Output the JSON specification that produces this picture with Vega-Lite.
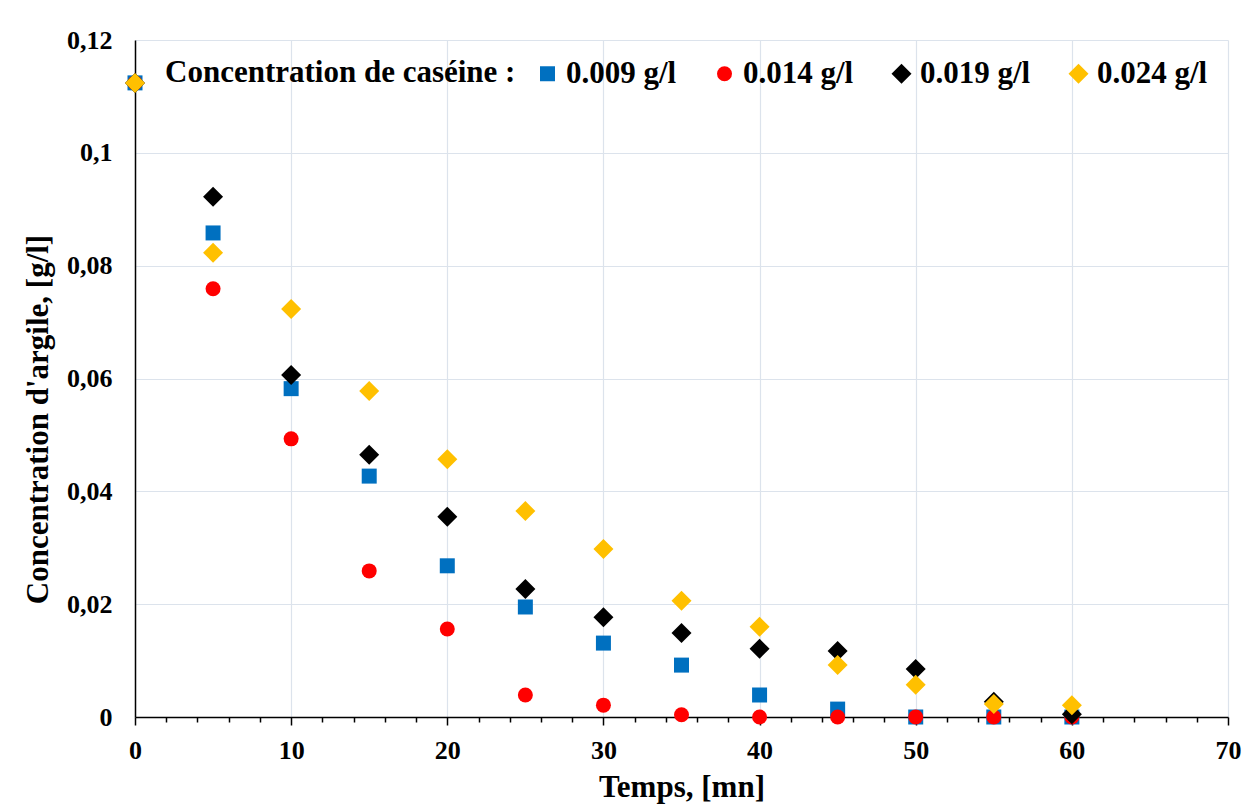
{
  "$schema": "https://vega.github.io/schema/vega-lite/v6.json",
  "width": 1093,
  "height": 677,
  "autosize": {"type": "none"},
  "padding": {"left": 135, "top": 40, "right": 25, "bottom": 89},
  "background": "white",
  "data": {"values": [
    {"t": 0, "c": 0.1124, "s": "0.009 g/l"},
    {"t": 5, "c": 0.0858, "s": "0.009 g/l"},
    {"t": 10, "c": 0.0582, "s": "0.009 g/l"},
    {"t": 15, "c": 0.0427, "s": "0.009 g/l"},
    {"t": 20, "c": 0.0268, "s": "0.009 g/l"},
    {"t": 25, "c": 0.0195, "s": "0.009 g/l"},
    {"t": 30, "c": 0.0131, "s": "0.009 g/l"},
    {"t": 35, "c": 0.0092, "s": "0.009 g/l"},
    {"t": 40, "c": 0.0039, "s": "0.009 g/l"},
    {"t": 45, "c": 0.0014, "s": "0.009 g/l"},
    {"t": 50, "c": 0.0, "s": "0.009 g/l"},
    {"t": 55, "c": 0.0, "s": "0.009 g/l"},
    {"t": 60, "c": 0.0, "s": "0.009 g/l"},
    {"t": 0, "c": 0.1124, "s": "0.014 g/l"},
    {"t": 5, "c": 0.0759, "s": "0.014 g/l"},
    {"t": 10, "c": 0.0493, "s": "0.014 g/l"},
    {"t": 15, "c": 0.0259, "s": "0.014 g/l"},
    {"t": 20, "c": 0.0156, "s": "0.014 g/l"},
    {"t": 25, "c": 0.0039, "s": "0.014 g/l"},
    {"t": 30, "c": 0.0021, "s": "0.014 g/l"},
    {"t": 35, "c": 0.0004, "s": "0.014 g/l"},
    {"t": 40, "c": 0.0, "s": "0.014 g/l"},
    {"t": 45, "c": 0.0, "s": "0.014 g/l"},
    {"t": 50, "c": 0.0, "s": "0.014 g/l"},
    {"t": 55, "c": 0.0, "s": "0.014 g/l"},
    {"t": 60, "c": 0.0, "s": "0.014 g/l"},
    {"t": 0, "c": 0.1124, "s": "0.019 g/l"},
    {"t": 5, "c": 0.0922, "s": "0.019 g/l"},
    {"t": 10, "c": 0.0606, "s": "0.019 g/l"},
    {"t": 15, "c": 0.0465, "s": "0.019 g/l"},
    {"t": 20, "c": 0.0355, "s": "0.019 g/l"},
    {"t": 25, "c": 0.0227, "s": "0.019 g/l"},
    {"t": 30, "c": 0.0177, "s": "0.019 g/l"},
    {"t": 35, "c": 0.0149, "s": "0.019 g/l"},
    {"t": 40, "c": 0.0121, "s": "0.019 g/l"},
    {"t": 45, "c": 0.0117, "s": "0.019 g/l"},
    {"t": 50, "c": 0.0085, "s": "0.019 g/l"},
    {"t": 55, "c": 0.0027, "s": "0.019 g/l"},
    {"t": 60, "c": 0.0005, "s": "0.019 g/l"},
    {"t": 0, "c": 0.1124, "s": "0.024 g/l"},
    {"t": 5, "c": 0.0823, "s": "0.024 g/l"},
    {"t": 10, "c": 0.0723, "s": "0.024 g/l"},
    {"t": 15, "c": 0.0578, "s": "0.024 g/l"},
    {"t": 20, "c": 0.0457, "s": "0.024 g/l"},
    {"t": 25, "c": 0.0365, "s": "0.024 g/l"},
    {"t": 30, "c": 0.0298, "s": "0.024 g/l"},
    {"t": 35, "c": 0.0206, "s": "0.024 g/l"},
    {"t": 40, "c": 0.0160, "s": "0.024 g/l"},
    {"t": 45, "c": 0.0092, "s": "0.024 g/l"},
    {"t": 50, "c": 0.0057, "s": "0.024 g/l"},
    {"t": 55, "c": 0.0023, "s": "0.024 g/l"},
    {"t": 60, "c": 0.0021, "s": "0.024 g/l"}
  ]},
  "mark": {"type": "point", "filled": true, "opacity": 1},
  "encoding": {
    "x": {
      "field": "t", "type": "quantitative",
      "scale": {"domain": [0, 70], "nice": false},
      "axis": {
        "title": "Temps, [mn]",
        "values": [0,2,4,6,8,10,12,14,16,18,20,22,24,26,28,30,32,34,36,38,40,42,44,46,48,50,52,54,56,58,60,62,64,66,68,70],
        "labelExpr": "datum.value % 10 === 0 ? datum.label : ''",
        "gridOpacity": {"condition": {"test": "datum.value % 10 === 0", "value": 1}, "value": 0},
        "tickSize": {"condition": {"test": "datum.value % 10 === 0", "value": 8}, "value": 5},
        "labelFlush": false,
        "labelPadding": 12,
        "titlePadding": 9,
        "labelFont": "Liberation Serif",
        "titleFont": "Liberation Serif"
      }
    },
    "y": {
      "field": "c", "type": "quantitative",
      "scale": {"domain": [0, 0.12], "nice": false},
      "axis": {
        "title": "Concentration d'argile, [g/l]",
        "values": [0, 0.02, 0.04, 0.06, 0.08, 0.1, 0.12],
        "labelExpr": "replace(format(datum.value, '~g'), '.', ',')",
        "ticks": false,
        "labelFlush": false,
        "labelPadding": 23,
        "titlePadding": 12,
        "titleY": 379,
        "labelFont": "Liberation Serif",
        "titleFont": "Liberation Serif"
      }
    },
    "color": {
      "field": "s", "type": "nominal",
      "scale": {"domain": ["0.009 g/l", "0.014 g/l", "0.019 g/l", "0.024 g/l"], "range": ["#0070C0", "#FF0000", "#000000", "#FFC000"]},
      "legend": {
        "title": "Concentration de caséine :",
        "titleOrient": "left",
        "direction": "horizontal",
        "orient": "none",
        "legendX": 30,
        "legendY": 18,
        "symbolSize": 130,
        "columnPadding": 32,
        "labelOffset": 3,
        "titlePadding": 16,
        "labelFont": "Liberation Serif",
        "titleFont": "Liberation Serif"
      }
    },
    "shape": {
      "field": "s", "type": "nominal",
      "scale": {"domain": ["0.009 g/l", "0.014 g/l", "0.019 g/l", "0.024 g/l"], "range": ["square", "circle", "M0,-1L1,0L0,1L-1,0Z", "M0,-1L1,0L0,1L-1,0Z"]},
      "legend": null
    },
    "size": {
      "field": "s", "type": "nominal",
      "scale": {"type": "ordinal", "domain": ["0.009 g/l", "0.014 g/l", "0.019 g/l", "0.024 g/l"], "range": [225, 225, 400, 400]},
      "legend": null
    }
  },
  "config": {
    "font": "Liberation Serif",
    "view": {"stroke": null},
    "style": {
      "guide-label": {"font": "Liberation Serif"},
      "guide-title": {"font": "Liberation Serif"}
    },
    "axis": {
      "labelFont": "Liberation Serif",
      "labelFontSize": 26,
      "labelFontWeight": "bold",
      "labelColor": "#000000",
      "titleFont": "Liberation Serif",
      "titleFontSize": 31,
      "titleFontWeight": "bold",
      "titleColor": "#000000",
      "domainColor": "#000000",
      "domainWidth": 1.5,
      "tickColor": "#000000",
      "tickWidth": 1.5,
      "gridColor": "#DCE3EC",
      "gridWidth": 1.2
    },
    "legend": {
      "labelFont": "Liberation Serif",
      "labelFontSize": 31,
      "labelFontWeight": "bold",
      "labelColor": "#000000",
      "titleFont": "Liberation Serif",
      "titleFontSize": 31,
      "titleFontWeight": "bold",
      "titleColor": "#000000",
      "titleLimit": 600,
      "labelLimit": 300
    }
  }
}
